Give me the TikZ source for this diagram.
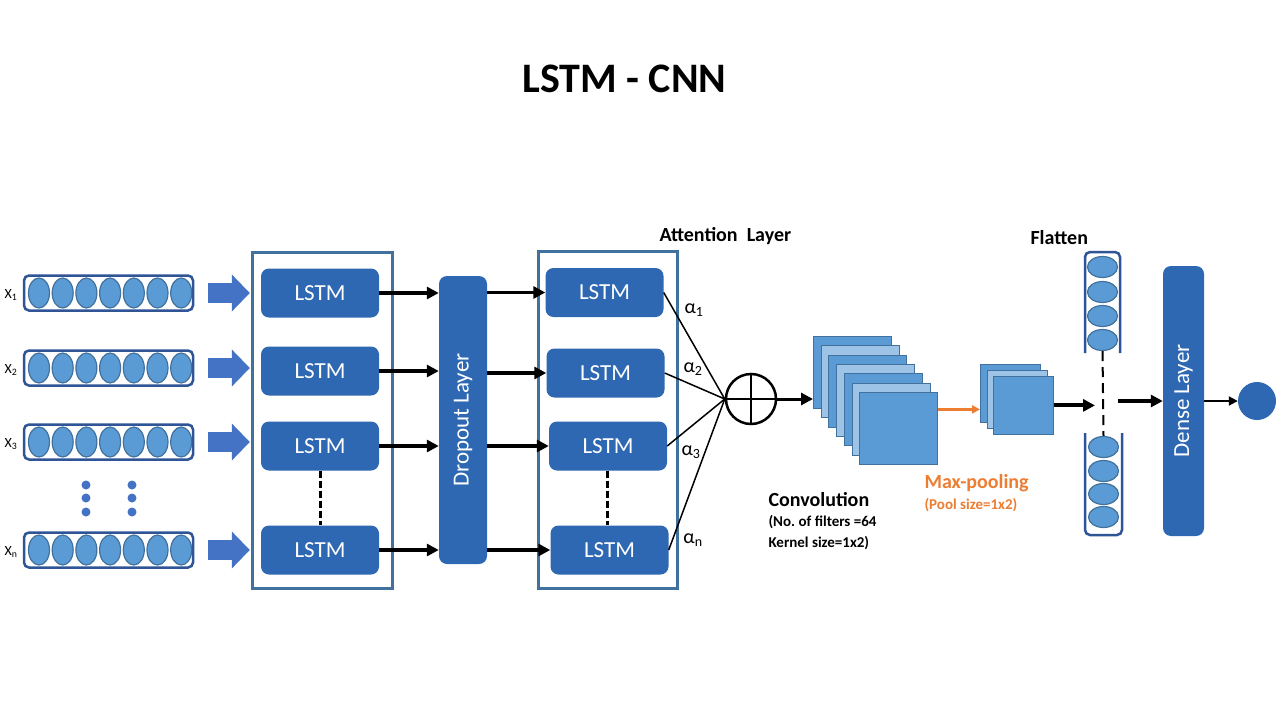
\documentclass[tikz,border=0pt]{standalone}
\usepackage{fontspec}
\usepackage{graphicx}
\setmainfont{Carlito}
\usepackage{tikz}
\usetikzlibrary{calc}
\usetikzlibrary{shapes.geometric}
\usetikzlibrary{arrows.meta}

\definecolor{lstmblue}{RGB}{47,104,178}
\definecolor{arrowblue}{RGB}{68,114,196}
\definecolor{cellblue}{RGB}{91,155,213}
\definecolor{cellline}{RGB}{65,113,156}
\definecolor{vecline}{RGB}{47,85,151}
\definecolor{framecol}{RGB}{65,113,156}
\definecolor{lightmap}{RGB}{157,195,230}
\definecolor{poolorange}{RGB}{237,125,49}

\begin{document}
\begin{tikzpicture}[x=1pt, y=-1pt,
        lstm/.style={fill=lstmblue, rounded corners=8pt, minimum width=118pt, minimum height=49pt,
            inner sep=0pt, text=white, font=\fontsize{23}{27}\selectfont},
        layer/.style={fill=lstmblue, rounded corners=8pt, inner sep=0pt, text=white,
            font=\fontsize{23}{27}\selectfont},
        frame/.style={draw=framecol, line width=3pt, inner sep=0pt},
        vecbox/.style={draw=vecline, line width=2.5pt, rounded corners=5pt, minimum width=169pt,
            minimum height=35pt, inner sep=0pt},
        cell/.style={ellipse, draw=cellline, line width=1.2pt, fill=cellblue, inner sep=0pt,
            minimum width=21pt, minimum height=30pt},
        fcell/.style={cell, minimum width=30pt, minimum height=21pt},
        fmap/.style={draw=cellline, line width=0.8pt, anchor=north west, inner sep=0pt},
        fat/.style={arrowblue, line width=20pt, -{Triangle[length=18pt,width=36pt]}},
        arr/.style={line width=3.5pt, -{Triangle[length=12pt,width=12pt]}},
        dashline/.style={line width=3pt, dash pattern=on 7pt off 3pt},
        bold/.style={font=\bfseries\fontsize{20}{24}\selectfont},
        note/.style={font=\bfseries\fontsize{15}{18}\selectfont},
        alpha/.style={font=\fontsize{20}{24}\selectfont}]
        \useasboundingbox[fill=white] (0,0) rectangle (1280,720);
        \node[font=\bfseries\fontsize{42}{50}\selectfont] (title) at (624.5,78.5) {LSTM - CNN};
        % inputs and first LSTM layer
        \node[frame, minimum width=140pt, minimum height=336pt] (f1) at (322,420) {};
        \foreach \i/\vy/\ly/\lab in {1/293/293/1, 2/368/371/2, 3/442/446/3, 4/550/550/n} {
            \node[vecbox] (v\i) at (108.5,\vy) {};
            \foreach \k in {0,...,6}
                \node[cell] (v\i c\k) at ({39+23.7*\k},\vy) {};
            \node[font=\fontsize{14}{16}\selectfont] (x\i) at (11,\vy+2) {X\textsubscript{\lab}};
            \node[lstm] (l\i) at (320,\ly) {LSTM};
            \draw[fat, shorten <=14pt, shorten >=11pt] (v\i.east) -- (v\i.east -| l\i.west);
        }
        \foreach \dx in {86,132}
            \foreach \dy in {485,498,512}
                \fill[arrowblue] (\dx,\dy) circle (4.5pt);
        \draw[dashline] (l3.south) -- (l4.north);
        % dropout
        \node[layer, minimum width=48pt, minimum height=288pt] (drop) at (463,420)
            {\rotatebox{90}{Dropout Layer}};
        % second LSTM layer
        \node[frame, minimum width=139pt, minimum height=337pt] (f2) at (607.5,419.5) {};
        \foreach \i/\mx/\my in {1/604.5/292.5, 2/605.5/373, 3/608/446, 4/609.5/550}
            \node[lstm] (m\i) at (\mx,\my) {LSTM};
        \draw[dashline] (m3.south -| 607,0) -- (m4.north -| 607,0);
        \foreach \i in {1,...,4} {
            \draw[arr] (l\i.east) -- (l\i.east -| drop.west);
            \draw[arr] (m\i.west -| drop.east) -- (m\i.west);
        }
        % attention
        \node[bold, anchor=west] (att) at (656,236) {Attention\ \ Layer};
        \node[circle, draw, line width=2.5pt, minimum size=50pt, inner sep=0pt] (sum) at (751,399) {};
        \draw[line width=2.5pt] (sum.north) -- (sum.south) (sum.west) -- (sum.east);
        \foreach \i in {1,...,4}
            \draw[line width=1.5pt] (m\i.east) -- (sum.west);
        \node[alpha] (a1) at (694,310) {α\textsubscript{1}};
        \node[alpha] (a2) at (693,369) {α\textsubscript{2}};
        \node[alpha] (a3) at (691,452) {α\textsubscript{3}};
        \node[alpha] (an) at (693,540) {α\textsubscript{n}};
        % convolution
        \foreach \i/\col in {0/cellblue, 1/lightmap, 2/cellblue, 3/lightmap, 4/cellblue, 5/lightmap, 6/cellblue}
            \node[fmap, fill=\col, minimum width=78pt, minimum height=72pt] (c\i) at ({813+7.7*\i},{336+9.33*\i}) {};
        \draw[arr, line width=3pt] (sum.east) -- (sum.east -| c0.west);
        \node[bold, anchor=west] (convlab) at (765,500) {Convolution};
        \node[note, anchor=west] (conv1) at (765,522) {(No.\ of filters =64};
        \node[note, anchor=west] (conv2) at (765,543) {Kernel size=1x2)};
        % max pooling
        \foreach \i/\col/\px/\py in {0/cellblue/980/364, 1/lightmap/986.5/370, 2/cellblue/993/376}
            \node[fmap, fill=\col, minimum width=60pt, minimum height=58pt] (p\i) at (\px,\py) {};
        \draw[poolorange, line width=3pt, -{Triangle[length=8pt,width=8pt]}]
            ([yshift=-4pt]c6.east |- p2.west) -- ([yshift=-4pt]p2.west -| p0.west);
        \node[bold, anchor=west, text=poolorange] (poollab) at (921,483) {Max-pooling};
        \node[note, anchor=west, text=poolorange] (pool1) at (921,505) {(Pool size=1x2)};
        % flatten
        \node[bold, anchor=west] (flatlab) at (1027,238) {Flatten};
        \draw[vecline, line width=2.5pt, rounded corners=5pt] (1085,353) -- (1085,252) -- (1120,252) -- (1120,353);
        \draw[vecline, line width=2.5pt, rounded corners=5pt] (1085,433) -- (1085,535) -- (1122,535) -- (1122,433);
        \foreach \k/\fy in {1/267, 2/292, 3/316, 4/340}
            \node[fcell] (ft\k) at (1102.5,\fy) {};
        \foreach \k/\fy in {1/447, 2/471, 3/494, 4/517}
            \node[fcell] (fb\k) at (1103.5,\fy) {};
        \coordinate (fgap) at (1103,401);
        \draw[line width=2pt, dash pattern=on 10pt off 6pt] (ft4.south) -- (fb1.north);
        \draw[arr, line width=4pt] (p2.east) -- (p2.east -| fgap) [shorten >=8pt];
        % dense and output
        \node[layer, minimum width=41pt, minimum height=270pt] (dense) at (1183.5,401)
            {\rotatebox{90}{Dense Layer}};
        \draw[arr, line width=4pt, shorten <=15pt] (fgap) -- (dense.west);
        \node[circle, fill=lstmblue, minimum size=38pt, inner sep=0pt] (out) at (1257,401) {};
        \draw[line width=2pt, -{Triangle[length=9pt,width=9pt]}] (dense.east) -- (out.west);
\end{tikzpicture}
\end{document}
